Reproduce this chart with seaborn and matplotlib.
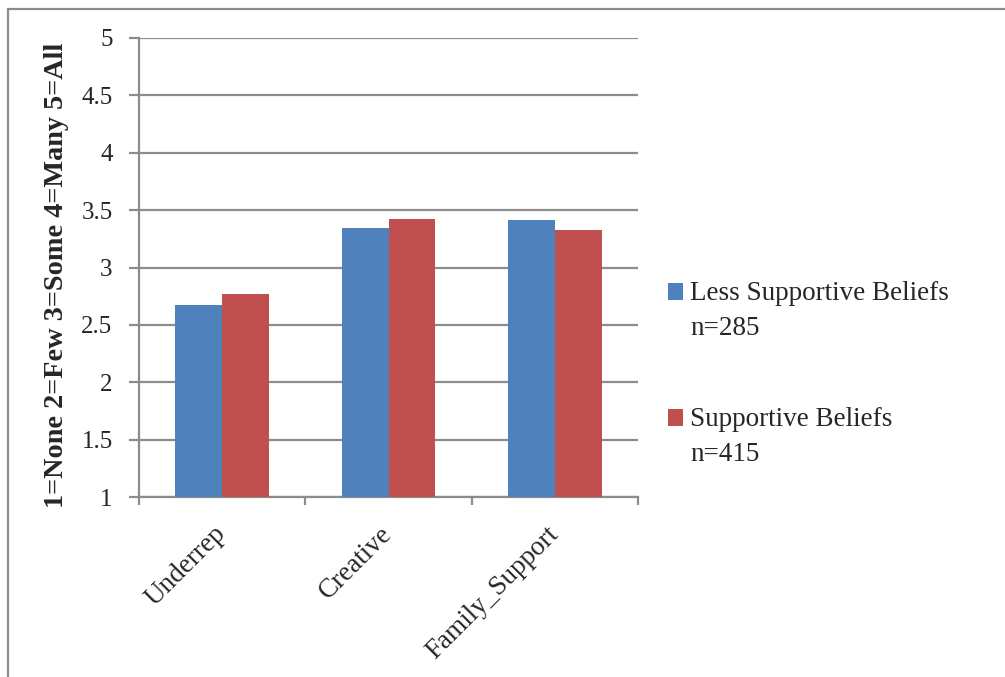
import matplotlib
matplotlib.use("Agg")
import matplotlib.pyplot as plt
from matplotlib.patches import Rectangle
from matplotlib.legend_handler import HandlerPatch
import seaborn as sns
import pandas as pd

categories = ["Underrep", "Creative", "Family_Support"]
less_supportive = [2.67, 3.34, 3.41]
supportive = [2.77, 3.42, 3.33]
series_names = ["Less Supportive Beliefs\nn=285", "Supportive Beliefs\nn=415"]
y_ticks = [1, 1.5, 2, 2.5, 3, 3.5, 4, 4.5, 5]
y_tick_labels = ["1", "1.5", "2", "2.5", "3", "3.5", "4", "4.5", "5"]
y_title = "1=None 2=Few 3=Some 4=Many 5=All"

df = pd.DataFrame({
    "category": categories * 2,
    "value": less_supportive + supportive,
    "group": [series_names[0]] * 3 + [series_names[1]] * 3,
})

sns.set_theme(style="white")
plt.rcParams["font.family"] = ["Liberation Serif", "DejaVu Serif"]

fig = plt.figure(figsize=(10.05, 6.77), dpi=100)
ax = fig.add_axes([139 / 1005, 1 - 497 / 677, (638 - 139) / 1005, (497 - 38) / 677])

grid_col = "#8c8c8c"
sns.barplot(data=df, x="category", y="value", hue="group", order=categories,
            hue_order=series_names, palette=["#4F81BD", "#C0504D"],
            width=0.565, saturation=1, edgecolor="none", ax=ax, legend=True, zorder=3)

ax.set_ylim(1, 5)
ax.set_xlim(-0.5, 2.5)
ax.set_yticks(y_ticks)
ax.set_yticklabels(y_tick_labels, fontsize=18)
ax.yaxis.grid(True, color=grid_col, linewidth=1.6, zorder=0)
ax.set_axisbelow(True)

for side in ["top", "right"]:
    ax.spines[side].set_visible(False)
for side in ["left", "bottom"]:
    ax.spines[side].set_color(grid_col)
    ax.spines[side].set_linewidth(1.6)

ax.tick_params(axis="y", which="major", direction="out", length=7, width=1.6,
               color=grid_col, pad=12, left=True)
ax.set_xticks([-0.5, 0.5, 1.5, 2.5], minor=True)
ax.tick_params(axis="x", which="minor", direction="out", length=6, width=1.6,
               color=grid_col, bottom=True)
ax.tick_params(axis="x", which="major", length=0, pad=24)
ax.set_xticks(range(len(categories)))
ax.set_xticklabels(categories, rotation=45, ha="right", va="center",
                   rotation_mode="anchor", fontsize=19.5)

ax.set_xlabel("")
ax.set_ylabel(y_title, fontsize=20.3, fontweight="bold")
ax.yaxis.set_label_coords(-0.140, 0.484)


def raised_square(legend, orig_handle, xdescent, ydescent, width, height, fontsize):
    # align the colour square with the first line of a two-line label
    return Rectangle((-xdescent, -ydescent + 0.71 * fontsize), width, height)


handles, labels = ax.get_legend_handles_labels()
leg = ax.legend(handles, labels, loc="upper left", bbox_to_anchor=(1.06, 0.47),
                frameon=False, fontsize=19.5, handlelength=0.56, handleheight=0.56,
                handletextpad=0.25, labelspacing=2.45, borderaxespad=0, borderpad=0,
                handler_map={Rectangle: HandlerPatch(patch_func=raised_square)})
for t in leg.get_texts():
    t.set_linespacing(1.5)

fig.patches.append(Rectangle((8 / 1005, -0.1), 1.2, 1.1 - 9 / 677, transform=fig.transFigure,
                             fill=False, edgecolor="#8c8c8c", linewidth=1.6, figure=fig))

fig.savefig("out.png", dpi=100)
